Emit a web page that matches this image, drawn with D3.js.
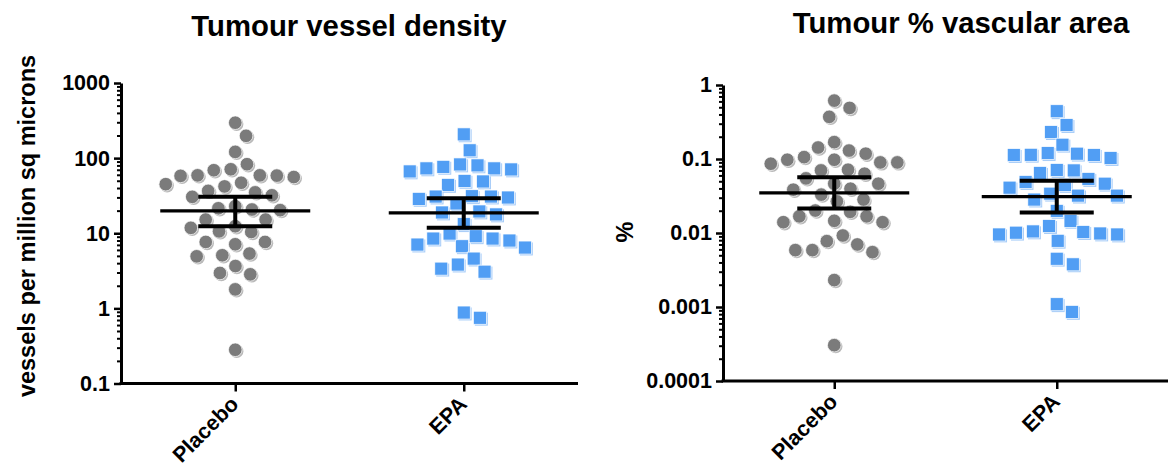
<!DOCTYPE html>
<html>
<head>
<meta charset="utf-8">
<script src="https://cdn.jsdelivr.net/npm/d3@7"></script>
<style>
  body { margin: 0; background: #fff; }
  text { font-family: "Liberation Sans", Arial, Helvetica, sans-serif; font-weight: bold; fill: #000; }
</style>
</head>
<body>
<svg id="chart" width="1173" height="468"></svg>
<script>
// ---- data ----
const groups = ["Placebo", "EPA"];

// vessels per million sq microns, one value per tumour
const densityPlacebo = [296, 198, 121, 83, 69, 59, 58, 71, 59, 58.5, 56, 47, 42, 45, 35, 30.5, 32, 36.6,
  22.9, 20.7, 20.3, 21.5, 15.2, 15.2, 11.8, 10.4, 12.4, 10.6, 7.66, 7.13, 7.66, 5.09, 4.93, 5.36,
  3.66, 2.84, 2.96, 1.79, 0.281];
const densityEPA = [207, 127, 80, 73, 70.7, 66.5, 73, 76.6, 82.4, 44, 49.8, 48.9, 31.1, 29.9, 28.7,
  30.8, 30.8, 24.9, 19.5, 17.8, 18.9, 13.2, 8.5, 7.07, 9.12, 6.45, 6.71, 8.0, 8.5, 9.9, 4.6, 3.38,
  3.08, 3.83, 0.75, 0.88];

// % vascular area, one value per tumour
const areaPlacebo = [0.615, 0.49, 0.371, 0.169, 0.143, 0.118, 0.0977, 0.0899, 0.0863, 0.0899, 0.0977,
  0.106, 0.13, 0.0717, 0.0633, 0.0547, 0.0701, 0.0464, 0.0464, 0.0397, 0.033, 0.0385, 0.0268, 0.0283,
  0.0193, 0.0168, 0.014, 0.014, 0.0146, 0.0168, 0.0201, 0.00776, 0.00587, 0.00551, 0.00587, 0.007,
  0.00925, 0.00231, 0.000305];
const areaEPA = [0.442, 0.287, 0.231, 0.156, 0.118, 0.113, 0.103, 0.114, 0.113, 0.12, 0.071, 0.0647,
  0.0701, 0.041, 0.0464, 0.0537, 0.0446, 0.0489, 0.032, 0.0283, 0.032, 0.034, 0.0199, 0.0146, 0.0105,
  0.0101, 0.00955, 0.00785, 0.00955, 0.00985, 0.0103, 0.0124, 0.00449, 0.00377, 0.000858, 0.00109];

// central line and error-bar limits, per group (Placebo, EPA)
const densityCentre = [19.8, 18.7];
const densityLower = [12.4, 11.8];
const densityUpper = [30.5, 29.3];
const areaCentre = [0.0348, 0.031];
const areaLower = [0.0214, 0.0189];
const areaUpper = [0.0565, 0.0509];

const densityTicks = [0.1, 1, 10, 100, 1000];
const densityTickLabels = ["0.1", "1", "10", "100", "1000"];
const areaTicks = [0.0001, 0.001, 0.01, 0.1, 1];
const areaTickLabels = ["0.0001", "0.001", "0.01", "0.1", "1"];

// ---- layout ----
const svg = d3.select("#chart");
const GREY = "#7b7b7b", GREY_SHADE = "#b9b9b9";
const BLUE = "#519ef4", BLUE_SHADE = "#a8cdf8";

const panels = [
  {
    title: "Tumour vessel density", titleX: 349, titleY: 36,
    yLabel: "vessels per million sq microns", yLabelX: 35, yLabelY: 226,
    left: 121, right: 578, top: 83, bottom: 383.5,
    ticks: densityTicks, tickLabels: densityTickLabels,
    series: [densityPlacebo, densityEPA],
    centre: densityCentre, lower: densityLower, upper: densityUpper
  },
  {
    title: "Tumour % vascular area", titleX: 961, titleY: 33,
    yLabel: "%", yLabelX: 633, yLabelY: 232,
    left: 723, right: 1168, top: 85, bottom: 381,
    ticks: areaTicks, tickLabels: areaTickLabels,
    series: [areaPlacebo, areaEPA],
    centre: areaCentre, lower: areaLower, upper: areaUpper
  }
];

// Horizontal offsets so markers of one column do not pile on top of each other
function swarm(ys, D) {
  const order = d3.range(ys.length).sort((a, b) => ys[a] - ys[b]);
  const placed = [];
  const xs = new Array(ys.length);
  let flip = 1;
  for (const i of order) {
    const y = ys[i];
    const blocked = [];
    for (const p of placed) {
      const dy = Math.abs(p.y - y);
      if (dy < D) {
        const w = Math.sqrt(D * D - dy * dy);
        blocked.push([p.x - w, p.x + w]);
      }
    }
    const cands = [0];
    blocked.forEach(([a, b]) => cands.push(a, b));
    cands.sort((a, b) => Math.abs(a) - Math.abs(b) || (a - b) * flip);
    const x = cands.find(c => blocked.every(([a, b]) => c <= a + 1e-6 || c >= b - 1e-6));
    flip = -flip;
    xs[i] = x;
    placed.push({ x, y });
  }
  return xs;
}

panels.forEach(p => {
  const x = d3.scalePoint().domain(groups).range([p.left, p.right]).padding(0.5);
  const y = d3.scaleLog().domain([p.ticks[0], p.ticks[p.ticks.length - 1]]).range([p.bottom, p.top]);

  // title
  svg.append("text")
    .attr("x", p.titleX).attr("y", p.titleY)
    .attr("text-anchor", "middle")
    .style("font-size", "29.3px")
    .text(p.title);

  // y-axis title
  svg.append("text")
    .attr("transform", `translate(${p.yLabelX},${p.yLabelY}) rotate(-90)`)
    .attr("text-anchor", "middle")
    .style("font-size", "23.5px")
    .text(p.yLabel);

  // minor ticks: 2..9 within each decade
  const minor = [];
  for (let i = 0; i < p.ticks.length - 1; i++) {
    for (let k = 2; k <= 9; k++) minor.push(p.ticks[i] * k);
  }
  const gMinor = svg.append("g").attr("transform", `translate(${p.left},0)`)
    .call(d3.axisLeft(y).tickValues(minor).tickSize(4).tickSizeOuter(0).tickFormat(""));
  gMinor.select(".domain").remove();
  gMinor.selectAll("line").attr("stroke", "#000").attr("stroke-width", 2);

  // major ticks + labels + spine
  const gy = svg.append("g").attr("transform", `translate(${p.left},0)`)
    .call(d3.axisLeft(y).tickValues(p.ticks).tickSize(7).tickSizeOuter(0)
      .tickFormat((d, i) => p.tickLabels[i]).tickPadding(4));
  gy.select(".domain").attr("stroke", "#000").attr("stroke-width", 3);
  gy.selectAll(".tick line").attr("stroke", "#000").attr("stroke-width", 2.5);
  gy.selectAll(".tick text")
    .style("font-family", '"Liberation Sans", Arial, sans-serif')
    .style("font-weight", "bold").style("font-size", "21.5px").attr("fill", "#000");

  // x axis
  const gx = svg.append("g").attr("transform", `translate(0,${p.bottom})`)
    .call(d3.axisBottom(x).tickSize(8).tickSizeOuter(0));
  gx.select(".domain").attr("stroke", "#000").attr("stroke-width", 3)
    .attr("d", `M${p.left - 1.5},0H${p.right}`);
  gx.selectAll(".tick line").attr("stroke", "#000").attr("stroke-width", 2.5);
  gx.selectAll(".tick text")
    .style("font-family", '"Liberation Sans", Arial, sans-serif')
    .style("font-weight", "bold").style("font-size", "21.5px").attr("fill", "#000")
    .attr("text-anchor", "end")
    .attr("dy", null)
    .attr("y", 0)
    .attr("transform", "translate(4,22) rotate(-45)");

  // markers
  p.series.forEach((vals, gi) => {
    const cx = x(groups[gi]);
    const ys = vals.map(v => y(v));
    const offs = swarm(ys, 17);
    const g = svg.append("g");
    const pts = vals.map((v, i) => ({ x: cx + offs[i], y: ys[i] }));
    if (gi === 0) {
      g.selectAll(".shade").data(pts).join("circle")
        .attr("cx", d => d.x + 1.4).attr("cy", d => d.y + 1.4).attr("r", 6.8)
        .attr("fill", GREY_SHADE);
      g.selectAll(".dot").data(pts).join("circle")
        .attr("cx", d => d.x).attr("cy", d => d.y).attr("r", 6.8)
        .attr("fill", GREY).attr("stroke", "#fff").attr("stroke-width", 0.7);
    } else {
      const s = 13;
      g.selectAll(".shade").data(pts).join("rect")
        .attr("x", d => d.x - s / 2 + 1.4).attr("y", d => d.y - s / 2 + 1.4)
        .attr("width", s).attr("height", s).attr("fill", BLUE_SHADE);
      g.selectAll(".dot").data(pts).join("rect")
        .attr("x", d => d.x - s / 2).attr("y", d => d.y - s / 2)
        .attr("width", s).attr("height", s)
        .attr("fill", BLUE).attr("stroke", "#fff").attr("stroke-width", 0.7);
    }
  });

  // central line with error bars
  groups.forEach((grp, gi) => {
    const cx = x(grp);
    const g = svg.append("g").attr("stroke", "#000").attr("stroke-linecap", "butt");
    g.append("line").attr("x1", cx - 75).attr("x2", cx + 75)
      .attr("y1", y(p.centre[gi])).attr("y2", y(p.centre[gi])).attr("stroke-width", 3.2);
    g.append("line").attr("x1", cx).attr("x2", cx)
      .attr("y1", y(p.upper[gi])).attr("y2", y(p.lower[gi])).attr("stroke-width", 4);
    [p.upper[gi], p.lower[gi]].forEach(v => {
      g.append("line").attr("x1", cx - 37).attr("x2", cx + 37)
        .attr("y1", y(v)).attr("y2", y(v)).attr("stroke-width", 4);
    });
  });
});
</script>
</body>
</html>
